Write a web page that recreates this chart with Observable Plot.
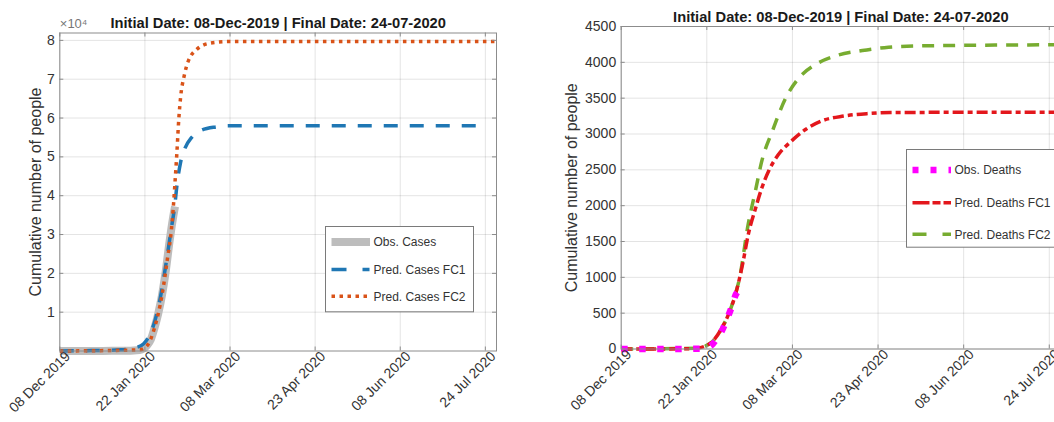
<!DOCTYPE html>
<html><head><meta charset="utf-8">
<script src="https://cdn.jsdelivr.net/npm/d3@7"></script>
<script src="https://cdn.jsdelivr.net/npm/@observablehq/plot@0.6"></script>
<style>
html,body{margin:0;padding:0;background:#fff;overflow:hidden;}
#wrap{position:relative;width:1054px;height:422px;overflow:hidden;background:#fff;font-family:"Liberation Sans",Arial,Helvetica,sans-serif;}
#wrap svg{position:absolute;top:0;}
</style></head><body><div id="wrap"></div>
<script>
// ---------- shared axis data ----------
const xStart = "2019-12-08";
const xEnd = "2020-07-30";
const tickDates = ["2019-12-08T00:00Z","2020-01-22T19:12Z","2020-03-08T14:24Z","2020-04-23T09:36Z","2020-06-08T04:48Z","2020-07-24T00:00Z"];
const tickLabels = ["08 Dec 2019","22 Jan 2020","08 Mar 2020","23 Apr 2020","08 Jun 2020","24 Jul 2020"];
const titleText = "Initial Date: 08-Dec-2019 | Final Date: 24-07-2020";
const yLabelText = "Cumulative number of people";

// ---------- left panel: cases ----------
const casesTicks = [10000,20000,30000,40000,50000,60000,70000,80000];
const casesTickLabels = ["1","2","3","4","5","6","7","8"];
const casesYMax = 81900;

const obsCasesDates = ["2019-12-08","2019-12-31","2020-01-10","2020-01-20","2020-01-22","2020-01-24","2020-01-26","2020-01-28","2020-01-30","2020-02-01","2020-02-03","2020-02-05","2020-02-07","2020-02-08"];
const obsCasesValues = [0,30,40,280,600,1500,3000,6000,9700,14400,20500,28000,34500,37200];

const fc1CasesDates = ["2019-12-08","2019-12-25","2020-01-10","2020-01-18","2020-01-22","2020-01-25","2020-01-28","2020-01-31","2020-02-03","2020-02-06","2020-02-08","2020-02-09","2020-02-11","2020-02-13","2020-02-17","2020-02-22","2020-03-01","2020-03-08","2020-07-24"];
const fc1CasesValues = [0,100,300,900,1800,3800,7500,13500,22000,31500,38000,42500,48600,51800,55000,56800,57700,58000,58000];

const fc2CasesDates = ["2019-12-08","2020-01-20","2020-01-24","2020-01-28","2020-02-01","2020-02-04","2020-02-06","2020-02-07","2020-02-08","2020-02-09","2020-02-10","2020-02-11","2020-02-13","2020-02-15","2020-02-20","2020-02-27","2020-03-08","2020-07-30"];
const fc2CasesValues = [0,300,1400,6000,14400,24000,31000,36500,43500,51000,59500,65300,71000,74500,77800,79300,79700,79700];

// ---------- right panel: deaths ----------
const deathsTicks = [0,500,1000,1500,2000,2500,3000,3500,4000,4500];
const deathsYMax = 4500;

const obsDeathsDates = ["2019-12-08","2019-12-31","2020-01-11","2020-01-20","2020-01-22","2020-01-24","2020-01-26","2020-01-28","2020-01-31","2020-02-02","2020-02-04","2020-02-06","2020-02-07","2020-02-08"];
const obsDeathsValues = [0,0,1,4,17,30,70,140,260,380,510,650,740,790];

const fc1DeathsDates = ["2019-12-08","2020-01-10","2020-01-17","2020-01-22","2020-01-26","2020-01-31","2020-02-04","2020-02-07","2020-02-11","2020-02-14","2020-02-18","2020-02-21","2020-02-25","2020-03-01","2020-03-08","2020-03-16","2020-03-24","2020-04-05","2020-04-18","2020-04-30","2020-07-30"];
const fc1DeathsValues = [0,2,10,40,110,300,520,750,1190,1600,1975,2230,2490,2710,2900,3070,3180,3250,3285,3300,3305];

const fc2DeathsDates = ["2019-12-08","2020-01-17","2020-01-22","2020-01-26","2020-01-31","2020-02-04","2020-02-07","2020-02-09","2020-02-14","2020-02-18","2020-02-21","2020-02-27","2020-03-05","2020-03-12","2020-03-21","2020-03-31","2020-04-15","2020-04-29","2020-05-15","2020-07-30"];
const fc2DeathsValues = [0,10,40,110,300,520,760,950,1750,2230,2600,3050,3500,3780,3970,4085,4165,4210,4230,4245];

// ---------- helpers ----------
const FONT = '"Liberation Sans", Arial, Helvetica, sans-serif';
const rows = (dates, values) => dates.map((d, i) => ({date: new Date(d), value: values[i]}));
const tickD = tickDates.map(d => new Date(d));
const labelMap = new Map(tickD.map((d, i) => [+d, tickLabels[i]]));
const H = 422;

function panel(o) {
  const plotH = H - o.marginTop - o.marginBottom;
  const plotW = o.width - o.marginLeft - o.marginRight;
  const frameColor = "#8c8c8c";
  const marks = [
    Plot.gridX(tickD, {stroke: "#000", strokeOpacity: 0.11, strokeWidth: 1}),
    Plot.gridY(o.yTicks, {stroke: "#000", strokeOpacity: 0.11, strokeWidth: 1}),
    ...o.series.map(s => Plot.line(rows(s.dates, s.values), {
      x: "date", y: "value", stroke: s.color, strokeWidth: s.width,
      strokeDasharray: s.dash, strokeLinecap: "butt", strokeLinejoin: "round",
      curve: "monotone-x"
    })),
    Plot.frame({stroke: frameColor, strokeWidth: 1}),
    Plot.ruleX(tickD, {x: d => d, insetTop: plotH - 4, stroke: frameColor}),
    Plot.ruleX(tickD, {x: d => d, insetBottom: plotH - 4, stroke: frameColor}),
    Plot.ruleY(o.yTicks, {y: d => d, insetRight: plotW - 4, stroke: frameColor}),
    Plot.ruleY(o.yTicks, {y: d => d, insetLeft: plotW - 4, stroke: frameColor}),
    Plot.axisX(tickD, {tickFormat: d => labelMap.get(+d), tickRotate: -45, tickSize: 0, tickPadding: 3, dx: 8, fontSize: 14, fill: "#333"}),
    Plot.axisY(o.yTicks, {tickFormat: o.yFormat, tickSize: 0, tickPadding: 5, fontSize: 14, fill: "#333", label: null}),
    Plot.text([yLabelText], {frameAnchor: "left", dx: o.yLabelDx, rotate: -90, fontSize: 16, fill: "#333", textAnchor: "middle", lineAnchor: "middle"}),
    Plot.text([titleText], {frameAnchor: "top", dy: o.titleDy, lineAnchor: "bottom", fontSize: 14.7, fontWeight: "bold", fill: "#1a1a1a"})
  ];
  if (o.extra) marks.push(...o.extra);
  const svg = Plot.plot({
    width: o.width, height: H,
    marginLeft: o.marginLeft, marginRight: o.marginRight, marginTop: o.marginTop, marginBottom: o.marginBottom,
    style: {fontFamily: FONT, fontSize: "14px", color: "#333", background: "transparent", overflow: "visible"},
    x: {type: "utc", domain: [new Date(xStart), new Date(xEnd)]},
    y: {domain: [0, o.yMax]},
    marks
  });
  svg.style.left = o.left + "px";
  return svg;
}

const wrap = document.getElementById("wrap");

wrap.appendChild(panel({
  left: 0, width: 520, marginLeft: 59.3, marginRight: 24, marginTop: 32.5, marginBottom: 71.5,
  yMax: casesYMax, yTicks: casesTicks, yFormat: d => casesTickLabels[casesTicks.indexOf(d)],
  yLabelDx: -24, titleDy: -5,
  series: [
    {dates: obsCasesDates, values: obsCasesValues, color: "#bdbdbd", width: 8, dash: null},
    {dates: fc1CasesDates, values: fc1CasesValues, color: "#1f77b4", width: 3.5, dash: "14,12"},
    {dates: fc2CasesDates, values: fc2CasesValues, color: "#d95319", width: 3.5, dash: "3.5,4.5"}
  ],
  extra: [
    Plot.text(["×10⁴"], {frameAnchor: "top-left", dy: -5, lineAnchor: "bottom", textAnchor: "start", fontSize: 13, fill: "#777"})
  ]
}));

wrap.appendChild(panel({
  left: 530, width: 540, marginLeft: 90.7, marginRight: 10, marginTop: 26, marginBottom: 73.5,
  yMax: deathsYMax, yTicks: deathsTicks, yFormat: d => String(d),
  yLabelDx: -49, titleDy: -5,
  series: [
    {dates: fc2DeathsDates, values: fc2DeathsValues, color: "#77ac30", width: 3.5, dash: "12,9"},
    {dates: fc1DeathsDates, values: fc1DeathsValues, color: "#e3171c", width: 3.5, dash: "11,4,5,4"},
    {dates: obsDeathsDates, values: obsDeathsValues, color: "#ff00ff", width: 6.5, dash: "6.5,11.5"}
  ]
}));

// ---------- legends (overlaid) ----------
function legend(left, top, w, h, entries) {
  const svg = d3.select(wrap).append("svg")
    .attr("width", w + 2).attr("height", h + 2)
    .style("left", left + "px").style("top", top + "px");
  svg.append("rect").attr("x", 0.5).attr("y", 0.5).attr("width", w).attr("height", h)
    .attr("fill", "#fff").attr("stroke", "#7a7a7a");
  entries.forEach(e => {
    svg.append("line").attr("x1", 6.5).attr("x2", 45).attr("y1", e.y).attr("y2", e.y)
      .attr("stroke", e.color).attr("stroke-width", e.width).attr("stroke-dasharray", e.dash)
      .attr("stroke-linecap", "butt");
    svg.append("text").attr("x", 48.5).attr("y", e.y).attr("dy", "0.35em")
      .attr("font-family", FONT).attr("font-size", 12).attr("fill", "#333").text(e.label);
  });
}
legend(325, 225.7, 148, 85.3, [
  {label: "Obs. Cases", color: "#bdbdbd", width: 8, dash: null, y: 16},
  {label: "Pred. Cases FC1", color: "#1f77b4", width: 3.5, dash: "15,16,7", y: 43.6},
  {label: "Pred. Cases FC2", color: "#d95319", width: 3.5, dash: "3.5,4.5", y: 70.3}
]);
legend(906, 149, 152, 97.7, [
  {label: "Obs. Deaths", color: "#ff00ff", width: 6.5, dash: "6,12", y: 21},
  {label: "Pred. Deaths FC1", color: "#e3171c", width: 3.5, dash: "17,3,8,3,8", y: 53.7},
  {label: "Pred. Deaths FC2", color: "#77ac30", width: 3.5, dash: "14,16,10", y: 85.3}
]);
</script>
</body></html>
